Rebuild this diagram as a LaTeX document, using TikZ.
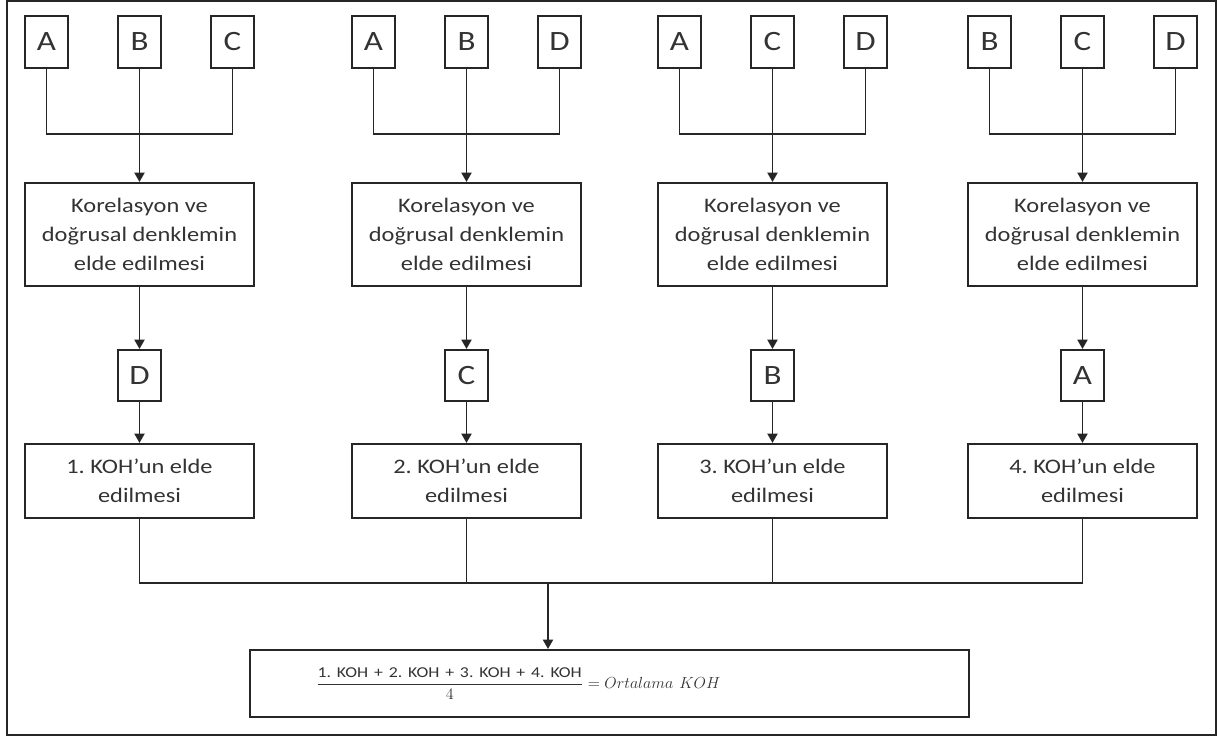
\documentclass[tikz,border=0pt]{standalone}
\usepackage{amsmath}
\usepackage{fontspec}
\setmainfont{Carlito}[FakeStretch=1.18]
\usetikzlibrary{arrows.meta}
\frenchspacing

\tikzset{
 box/.style={draw=black!85, line width=1.5pt, align=center, inner sep=0pt, text=black!80},
 letter/.style={box, minimum width=32.25pt, minimum height=39pt, font=\fontsize{21}{24}\selectfont},
 kor/.style={box, minimum width=171.75pt, minimum height=77.25pt, font=\fontsize{15.5}{21.5}\selectfont},
 koh/.style={box, minimum width=171.75pt, minimum height=55.5pt, font=\fontsize{15.5}{21.5}\selectfont},
 conn/.style={draw=black!85, line width=1.4pt},
 arr/.style={conn, -{Triangle[length=7pt,width=7.5pt]}},
}

\begin{document}
\begin{tikzpicture}[x=0.75pt,y=-0.75pt]
\useasboundingbox (0,0) rectangle (1218,738);
\draw[line width=1.6pt, black!85] (7,1) rectangle (1216,735);
% four groups: three inputs -> correlation -> fourth value -> KOH
\foreach \L/\p/\q/\r/\s/\n in {25/A/B/C/D/1, 352/A/B/D/C/2, 658/A/C/D/B/3, 968/B/C/D/A/4} {
 \node[letter] (in\n-1) at (\L+21.5,42) {\p};
 \node[letter] (in\n-2) at (\L+114.5,42) {\q};
 \node[letter] (in\n-3) at (\L+207.5,42) {\r};
 \node[kor] (kor\n) at (\L+114.5,234.5) {Korelasyon ve\\doğrusal denklemin\\elde edilmesi};
 \node[letter, minimum height=38.25pt] (out\n) at (\L+114.5,375.5) {\s};
 \node[koh] (koh\n) at (\L+114.5,481) {\n. KOH’un elde\\edilmesi};
 \coordinate (bus\n) at (\L+114.5,134);
 \draw[conn] (in\n-1.south) |- (bus\n) -| (in\n-3.south);
 \draw[arr] (in\n-2) -- (kor\n);
 \draw[arr] (kor\n) -- (out\n);
 \draw[arr] (out\n) -- (koh\n);
}
% average
\coordinate (join) at (548,583);
\node[box, text width=440.25pt, inner xsep=49.5pt, minimum height=50.25pt, align=left,
 font=\fontsize{13.2}{16}\selectfont] (res) at (609.5,683.5)
 {$\dfrac{\text{\fontsize{11.3}{13}\selectfont 1. KOH + 2. KOH + 3. KOH + 4. KOH}}{4} = Ortalama\ KOH$};
\draw[conn] (koh1.south) |- (join) -| (koh4.south);
\draw[conn] (koh2.south) -- (koh2.south |- join);
\draw[conn] (koh3.south) -- (koh3.south |- join);
\draw[arr] (join) -- (join |- res.north);
\end{tikzpicture}
\end{document}
